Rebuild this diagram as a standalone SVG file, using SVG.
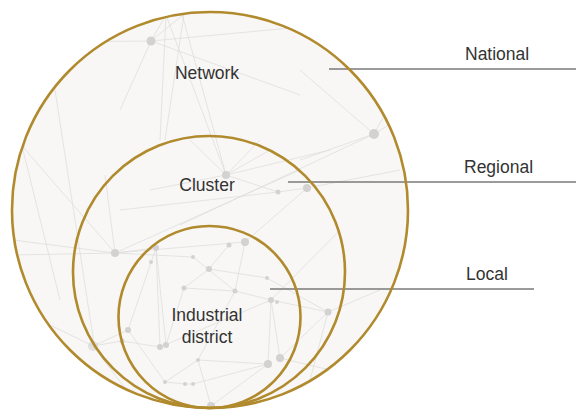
<svg xmlns="http://www.w3.org/2000/svg" width="576" height="412" viewBox="0 0 576 412">
<style>
.ring{fill:none;stroke:#b08a2c;stroke-width:2.6}
.web line{stroke:#dedede;stroke-width:0.8}
.dot{fill:#d2d2d2}
.lbl{font-family:"Liberation Sans",Arial,sans-serif;font-size:17.5px;fill:#333}
.lead{stroke:#7a7a7a;stroke-width:1.6}
</style>
<defs>
<clipPath id="outer"><circle cx="210" cy="210" r="198"/></clipPath>
</defs>
<rect width="576" height="412" fill="#ffffff"/>
<circle cx="210" cy="210" r="198" fill="#f8f7f5"/>
<g class="web" id="web" clip-path="url(#outer)">
<line x1="151" y1="41" x2="166" y2="15"/>
<line x1="151" y1="41" x2="184" y2="14"/>
<line x1="151" y1="41" x2="355" y2="22"/>
<line x1="151" y1="41" x2="40" y2="42"/>
<line x1="151" y1="41" x2="120" y2="110"/>
<line x1="151" y1="41" x2="300" y2="95"/>
<line x1="226" y1="175" x2="166" y2="15"/>
<line x1="226" y1="175" x2="182" y2="14"/>
<line x1="226" y1="175" x2="190" y2="140"/>
<line x1="226" y1="175" x2="260" y2="140"/>
<line x1="226" y1="175" x2="278" y2="192"/>
<line x1="226" y1="175" x2="150" y2="190"/>
<line x1="226" y1="175" x2="330" y2="150"/>
<line x1="226" y1="175" x2="270" y2="150"/>
<line x1="184" y1="14" x2="165" y2="140"/>
<line x1="166" y1="15" x2="160" y2="140"/>
<line x1="22" y1="146" x2="115" y2="253"/>
<line x1="22" y1="146" x2="60" y2="300"/>
<line x1="55" y1="90" x2="95" y2="350"/>
<line x1="13" y1="240" x2="115" y2="253"/>
<line x1="14" y1="255" x2="115" y2="253"/>
<line x1="115" y1="253" x2="105" y2="175"/>
<line x1="115" y1="253" x2="156" y2="248"/>
<line x1="115" y1="253" x2="193" y2="257"/>
<line x1="115" y1="253" x2="245" y2="242"/>
<line x1="115" y1="253" x2="300" y2="170"/>
<line x1="374" y1="134" x2="180" y2="225"/>
<line x1="374" y1="134" x2="400" y2="118"/>
<line x1="374" y1="134" x2="395" y2="95"/>
<line x1="374" y1="134" x2="300" y2="70"/>
<line x1="374" y1="134" x2="300" y2="160"/>
<line x1="307" y1="188" x2="245" y2="242"/>
<line x1="307" y1="188" x2="400" y2="170"/>
<line x1="307" y1="188" x2="278" y2="192"/>
<line x1="278" y1="192" x2="120" y2="210"/>
<line x1="340" y1="230" x2="271" y2="300"/>
<line x1="156" y1="248" x2="160" y2="347"/>
<line x1="156" y1="248" x2="128" y2="330"/>
<line x1="156" y1="248" x2="166" y2="345"/>
<line x1="193" y1="257" x2="235" y2="291"/>
<line x1="229" y1="245" x2="209" y2="269"/>
<line x1="245" y1="242" x2="235" y2="291"/>
<line x1="209" y1="269" x2="184" y2="288"/>
<line x1="209" y1="269" x2="267" y2="278"/>
<line x1="184" y1="288" x2="166" y2="345"/>
<line x1="184" y1="288" x2="235" y2="291"/>
<line x1="235" y1="291" x2="271" y2="300"/>
<line x1="235" y1="291" x2="198" y2="360"/>
<line x1="271" y1="300" x2="268" y2="364"/>
<line x1="271" y1="300" x2="280" y2="358"/>
<line x1="271" y1="300" x2="328" y2="312"/>
<line x1="271" y1="300" x2="160" y2="347"/>
<line x1="267" y1="278" x2="328" y2="312"/>
<line x1="328" y1="312" x2="380" y2="290"/>
<line x1="328" y1="312" x2="310" y2="380"/>
<line x1="328" y1="312" x2="280" y2="358"/>
<line x1="160" y1="347" x2="122" y2="341"/>
<line x1="122" y1="341" x2="93" y2="346"/>
<line x1="93" y1="346" x2="40" y2="320"/>
<line x1="93" y1="346" x2="128" y2="330"/>
<line x1="128" y1="330" x2="165" y2="382"/>
<line x1="198" y1="360" x2="165" y2="382"/>
<line x1="198" y1="360" x2="268" y2="364"/>
<line x1="198" y1="360" x2="211" y2="406"/>
<line x1="268" y1="364" x2="211" y2="406"/>
<line x1="185" y1="384" x2="193" y2="384"/>
<line x1="165" y1="382" x2="185" y2="384"/>
<line x1="193" y1="384" x2="268" y2="364"/>
<line x1="280" y1="358" x2="330" y2="370"/>
<line x1="93" y1="346" x2="130" y2="395"/>
</g>
<g id="dots" clip-path="url(#outer)">
<circle class="dot" cx="151" cy="41" r="4.5"/>
<circle class="dot" cx="226" cy="175" r="4"/>
<circle class="dot" cx="278" cy="192" r="2.5"/>
<circle class="dot" cx="307" cy="188" r="4"/>
<circle class="dot" cx="374" cy="134" r="5"/>
<circle class="dot" cx="22" cy="146" r="2.5"/>
<circle class="dot" cx="115" cy="253" r="4"/>
<circle class="dot" cx="156" cy="248" r="3"/>
<circle class="dot" cx="245" cy="242" r="4"/>
<circle class="dot" cx="229" cy="245" r="2.5"/>
<circle class="dot" cx="193" cy="257" r="2"/>
<circle class="dot" cx="151" cy="262" r="2"/>
<circle class="dot" cx="209" cy="269" r="3"/>
<circle class="dot" cx="184" cy="288" r="2.5"/>
<circle class="dot" cx="235" cy="291" r="2.5"/>
<circle class="dot" cx="267" cy="278" r="2"/>
<circle class="dot" cx="271" cy="300" r="3"/>
<circle class="dot" cx="277" cy="302" r="2"/>
<circle class="dot" cx="328" cy="312" r="3.5"/>
<circle class="dot" cx="160" cy="347" r="3"/>
<circle class="dot" cx="166" cy="345" r="3"/>
<circle class="dot" cx="128" cy="330" r="3"/>
<circle class="dot" cx="122" cy="341" r="2.5"/>
<circle class="dot" cx="93" cy="346" r="5" opacity="0.6"/>
<circle class="dot" cx="198" cy="360" r="2"/>
<circle class="dot" cx="268" cy="364" r="4"/>
<circle class="dot" cx="280" cy="358" r="4"/>
<circle class="dot" cx="165" cy="382" r="2"/>
<circle class="dot" cx="185" cy="384" r="2"/>
<circle class="dot" cx="193" cy="384" r="2"/>
<circle class="dot" cx="211" cy="406" r="4"/>
</g>
<g id="connectors">
<line class="lead" x1="329" y1="69" x2="576" y2="69"/>
<line class="lead" x1="288" y1="182" x2="576" y2="182"/>
<line class="lead" x1="270" y1="289" x2="534" y2="289"/>
</g>
<g id="national">
<circle class="ring" cx="210" cy="210" r="198"/>
<text class="lbl" x="207" y="79" text-anchor="middle">Network</text>
</g>
<g id="regional">
<circle class="ring" cx="209" cy="272" r="136"/>
<text class="lbl" x="207" y="191" text-anchor="middle">Cluster</text>
</g>
<g id="local">
<circle class="ring" cx="209.5" cy="317" r="91"/>
<text class="lbl" x="207" y="321" text-anchor="middle">Industrial</text>
<text class="lbl" x="207" y="343" text-anchor="middle">district</text>
</g>
<g id="labels">
<text class="lbl" x="465" y="60">National</text>
<text class="lbl" x="464" y="173">Regional</text>
<text class="lbl" x="466" y="280">Local</text>
</g>
</svg>
